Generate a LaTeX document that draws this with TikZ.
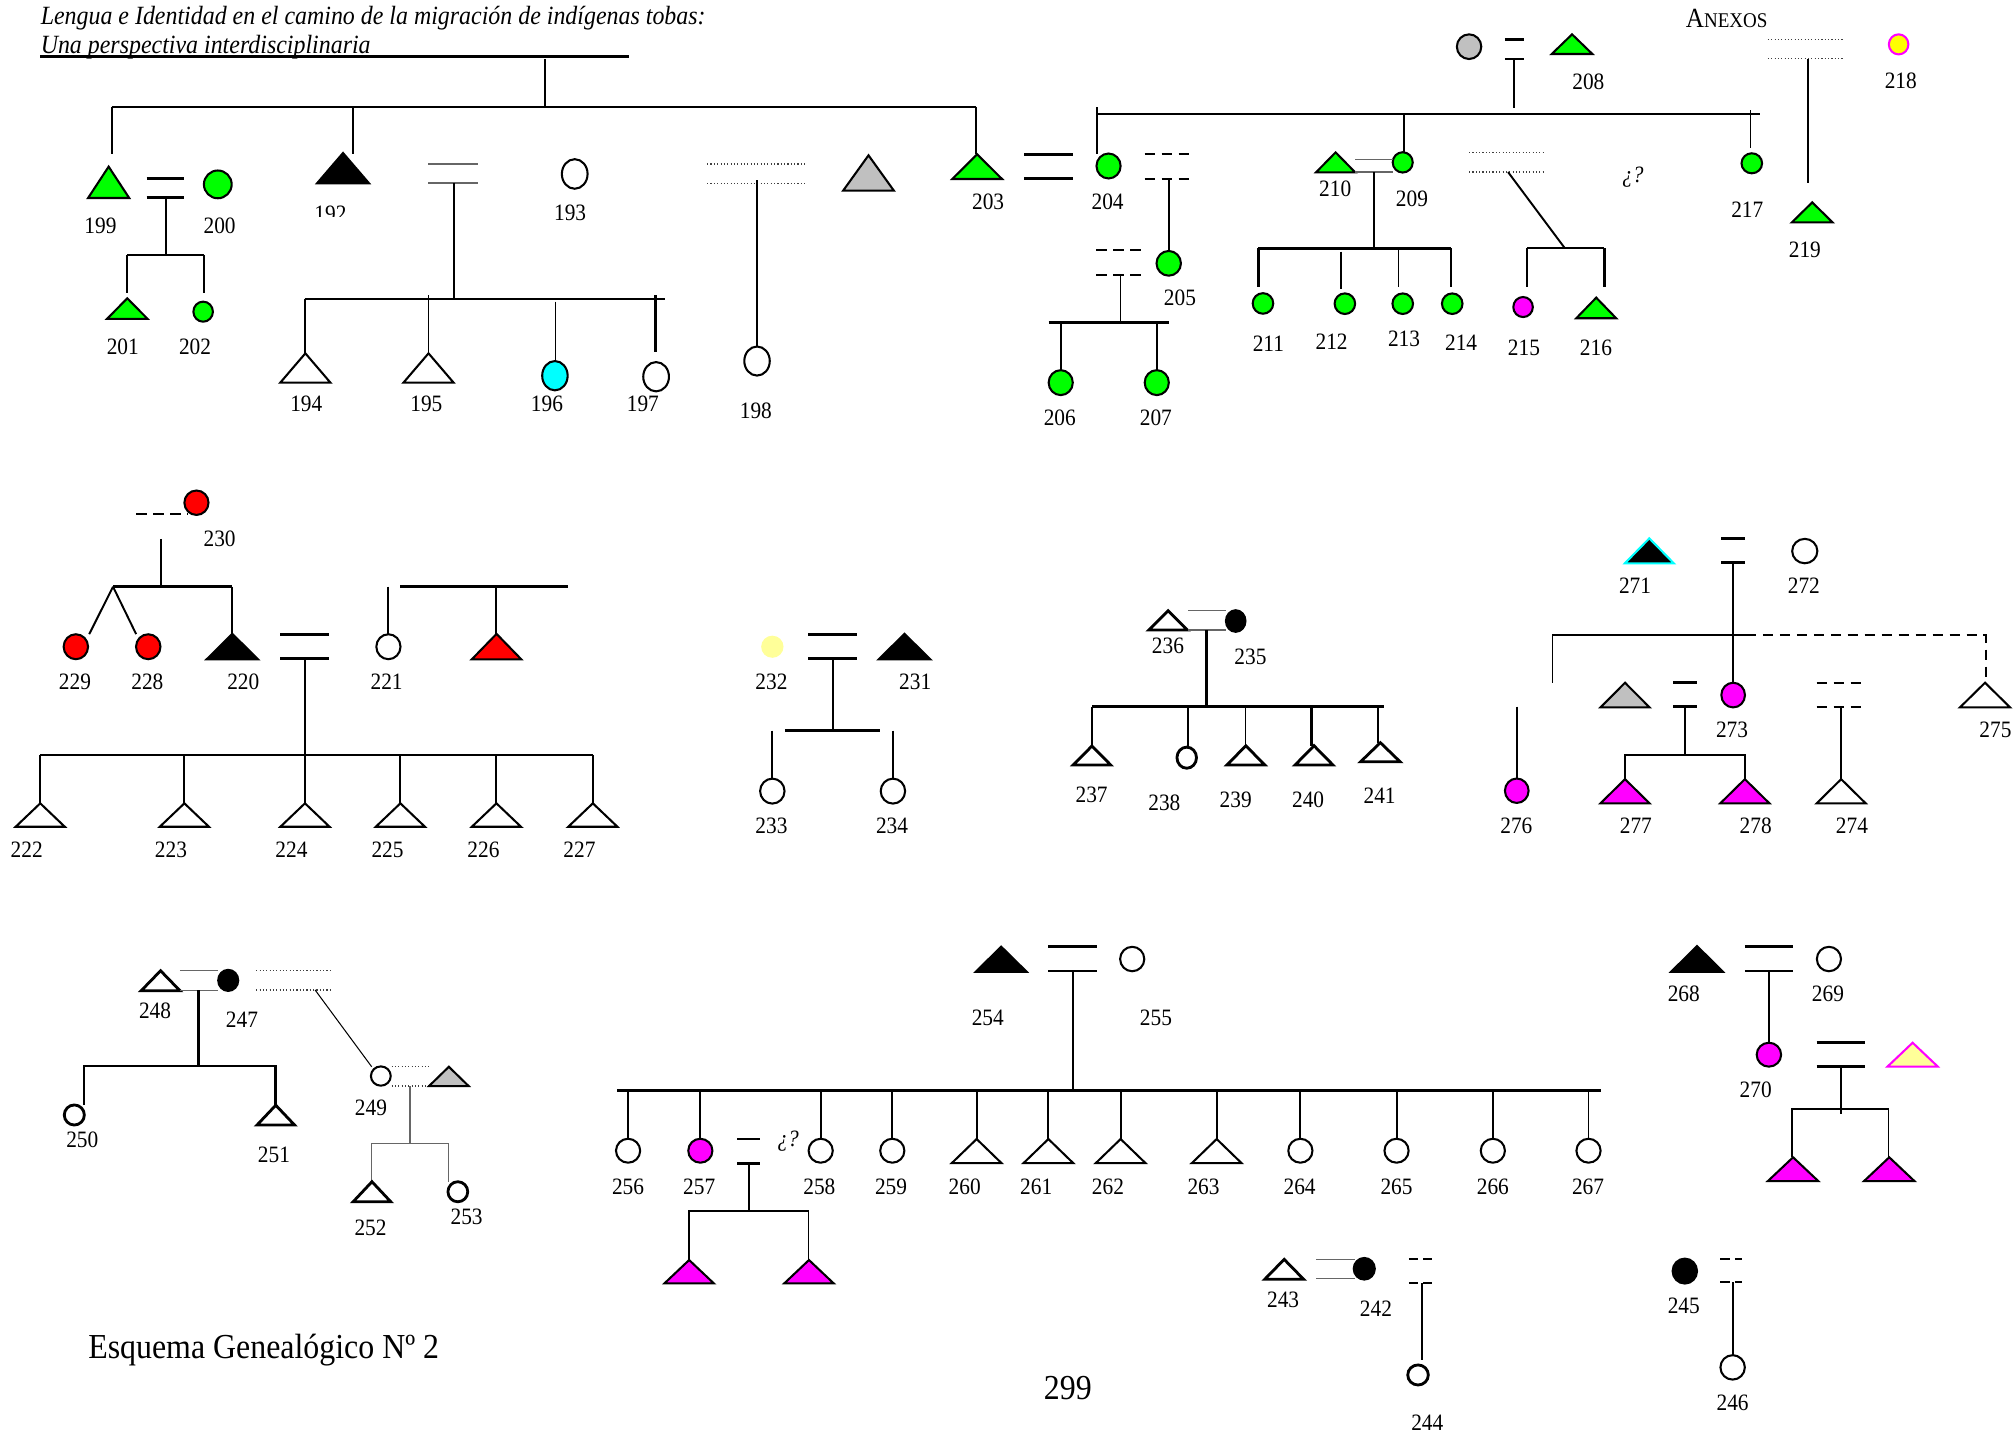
\documentclass[tikz,border=0pt]{standalone}
\usepackage{fontspec}
\usepackage{graphicx}
\setmainfont{Liberation Serif}
\usetikzlibrary{shapes.geometric}
\definecolor{pgreen}{HTML}{00FF00}
\definecolor{pcyan}{HTML}{00FFFF}
\definecolor{pmag}{HTML}{FF00FF}
\definecolor{pred}{HTML}{FF0000}
\definecolor{pgray}{HTML}{C0C0C0}
\definecolor{pyel}{HTML}{FFFF00}
\definecolor{ppale}{HTML}{FFFF99}
\newcommand\vsc[1]{\scalebox{1}[1.1]{#1}}
\newcommand\PC[6]{\node[pers,minimum width=#4pt,minimum height=#5pt,#6] (#1) at (#2,#3) {};}
\newcommand\PT[6]{\coordinate (#1) at (#2,#3); \draw[tri,#6] (#1) -- ++(#4/2,#5) -- ++(-#4,0) -- cycle;}
\newcommand\LB[3]{\node[lab] (l#1) at (#2,#3) {\vsc{#1}};}
\begin{document}
\begin{tikzpicture}[x=0.5pt,y=-0.5pt,
  ln/.style={line width=0.75pt},
  thk/.style={line width=1pt},
  thn/.style={line width=0.4pt},
  gry/.style={line width=0.5pt,black!60},
  dot2/.style={line width=0.55pt,black!75,dash pattern=on 0.45pt off 0.85pt},
  dsh/.style={line width=0.8pt,dash pattern=on 4pt off 2.6pt},
  dsh2/.style={line width=0.8pt,dash pattern=on 3.6pt off 2pt},
  pers/.style={ellipse,draw,line width=0.8pt,inner sep=0pt,outer sep=0pt,fill=white},
  bpers/.style={line width=1.1pt},
  tri/.style={draw,line width=0.8pt,fill=white},
  btri/.style={line width=1.1pt},
  lab/.style={font=\fontsize{8.3}{10}\selectfont,inner sep=0pt}]
\useasboundingbox (0,0) rectangle (1568,1115);

% ---------- header ----------
\node[anchor=west,inner sep=0pt,font=\fontsize{9.3}{11}\selectfont\itshape] (title1) at (31.3,14.3) {\vsc{Lengua e Identidad en el camino de la migración de indígenas tobas:}};
\node[anchor=west,inner sep=0pt,font=\fontsize{9.3}{11}\selectfont\itshape] (title2) at (31.3,36.3) {\vsc{Una perspectiva interdisciplinaria}};
\draw[thk] (31.3,44) -- (489.6,44);
\node[inner sep=0pt] (anexos) at (1343,14.5) {\vsc{\fontsize{9.8}{11}\selectfont A\fontsize{7.4}{9}\selectfont NEXOS}};

% ---------- section 1 ----------
\draw[ln] (423.6,46) -- (423.6,83);
\draw[ln] (86.8,83) -- (759.4,83);
\draw[ln] (86.8,83) -- (86.8,120);
\PT{p199}{84.5}{129.6}{32}{24.4}{fill=pgreen}
\draw[thk] (114,138.7) -- (143,138.7);
\draw[thk] (114,153.7) -- (143,153.7);
\PC{p200}{169.4}{143.4}{10.8}{10.8}{fill=pgreen}
\draw[ln] (129.2,153.7) -- (129.2,198.3);
\draw[ln] (99,198.3) -- (159,198.3);
\draw[ln] (99,198.3) -- (99,228);
\draw[ln] (159,198.3) -- (159,228);
\PT{p201}{99}{232}{31.5}{16}{fill=pgreen}
\PC{p202}{158}{242.4}{7.6}{7.8}{fill=pgreen}

\draw[ln] (274.5,83) -- (274.5,120);
\PT{p192}{266.8}{119}{40.5}{23.6}{fill=black}
\draw[gry] (333,127.5) -- (372,127.5);
\draw[gry] (333,142.3) -- (372,142.3);
\draw[ln] (352.8,142.3) -- (352.8,232.6);
\PC{p193}{447}{135.3}{10}{11.5}{}
\draw[thk] (237,232.6) -- (517,232.6);
\draw[ln] (237.3,232.6) -- (237.3,274.8);
\PT{p194}{237.5}{274.8}{39}{22.8}{}
\draw[ln] (333.3,229.7) -- (333.3,274.8);
\PT{p195}{333.3}{274.8}{39}{22.8}{}
\draw[thn] (432.3,234.6) -- (432.3,280.8);
\PC{p196}{431.6}{292.2}{9.9}{11.4}{fill=pcyan}
\draw[thk] (509.7,229.5) -- (509.7,273.5);
\PC{p197}{510.3}{293}{10}{11.4}{}

\draw[dot2] (550,127.6) -- (627,127.6);
\draw[dot2] (550,142.9) -- (627,142.9);
\draw[ln] (588.5,140) -- (588.5,269.6);
\PC{p198}{588.8}{280.8}{9.9}{11.3}{}
\PT{pg1}{675.5}{120.8}{39.5}{27.5}{fill=pgray}

\draw[ln] (759.4,83) -- (759.4,120);
\PT{p203}{760}{120}{38.7}{19.2}{fill=pgreen}
\draw[thk] (796.5,120) -- (834.4,120);
\draw[thk] (796.5,139) -- (834.4,139);
\PC{p204}{862.2}{129.1}{9.4}{9.7}{fill=pgreen}
\draw[ln] (853.2,83.5) -- (853.2,120);
\draw[thk] (853.2,88.7) -- (1369,88.7);

\PC{pg2}{1142.6}{36.3}{9.5}{9.6}{fill=pgray}
\draw[thk] (1170.4,30.6) -- (1185.4,30.6);
\draw[thk] (1170.4,45.9) -- (1185.4,45.9);
\draw[ln] (1177.7,45.9) -- (1177.7,84);
\PT{p208}{1222.7}{26.7}{31.6}{15.3}{fill=pgreen}

\draw[ln] (1092,88.7) -- (1092,118.7);
\PC{p209}{1091}{126.3}{7.8}{7.9}{fill=pgreen}
\PT{p210}{1038.8}{118.5}{30.4}{15.5}{fill=pgreen}
\draw[gry] (1054,124.2) -- (1083.5,124.2);
\draw[gry] (1054,133.8) -- (1083.5,133.8);
\draw[ln] (1068.7,133.8) -- (1068.7,193.2);
\draw[thk] (978.8,193.2) -- (1128.4,193.2);
\draw[thk] (978.8,193.2) -- (978.8,223);
\PC{p211}{982.3}{236}{8}{8}{fill=pgreen}
\draw[ln] (1042.7,195.7) -- (1042.7,225);
\PC{p212}{1046}{236.2}{8}{8}{fill=pgreen}
\draw[thn] (1087.8,193.2) -- (1087.8,223);
\PC{p213}{1091}{236.2}{8}{8}{fill=pgreen}
\draw[thk] (1128.4,193.2) -- (1128.4,223);
\PC{p214}{1129.5}{236.2}{8}{8}{fill=pgreen}

\draw[dot2] (1142.6,118.8) -- (1200.7,118.8);
\draw[dot2] (1142.6,133.8) -- (1200.7,133.8);
\draw[ln] (1172.9,133.8) -- (1217.2,193.2);
\draw[ln] (1187.8,193.2) -- (1247.9,193.2);
\draw[ln] (1187.8,193.2) -- (1187.8,223);
\draw[thk] (1247.9,193.2) -- (1247.9,223);
\PC{p215}{1184.6}{238.8}{7.6}{7.8}{fill=pmag}
\PT{p216}{1241.5}{231.5}{31}{16}{fill=pgreen}
\node[inner sep=0pt,font=\fontsize{8.3}{10}\selectfont\itshape] (q1) at (1270,137.4) {\vsc{¿?}};

\draw[ln] (1361.5,85.6) -- (1361.5,114.9);
\PC{p217}{1362.5}{127}{8}{7.8}{fill=pgreen}
\draw[dot2] (1375,30.6) -- (1433.3,30.6);
\draw[dot2] (1375,45.6) -- (1433.3,45.6);
\draw[ln] (1405.9,45.6) -- (1405.9,142.6);
\PC{p218}{1476.7}{34.5}{7.6}{7.8}{fill=pyel,draw=pmag}
\PT{p219}{1409.5}{157.4}{31.6}{15.5}{fill=pgreen}

\draw[dsh] (890.3,120) -- (927.8,120);
\draw[dsh] (890.3,139) -- (927.8,139);
\draw[ln] (909,139) -- (909,195);
\PC{p205}{909}{204.8}{9.5}{9.6}{fill=pgreen}
\draw[dsh] (852.8,194.4) -- (891,194.4);
\draw[dsh] (852.8,213.9) -- (891,213.9);
\draw[ln] (871.5,213.9) -- (871.5,251);
\draw[thk] (815.6,251) -- (909,251);
\draw[ln] (825,251) -- (825,288);
\draw[ln] (899.7,251) -- (899.7,288);
\PC{p206}{825}{297.6}{9.4}{9.7}{fill=pgreen}
\PC{p207}{899.7}{297.6}{9.4}{9.7}{fill=pgreen}

\LB{199}{78.1}{175.8} \LB{200}{170.8}{175.8}
\begin{scope}
\clip (230,150) rectangle (290,168.5);
\LB{192}{257}{166}
\end{scope}
\LB{193}{443.4}{165.2}
\LB{201}{95.5}{269.6} \LB{202}{151.7}{269.6}
\LB{194}{238.2}{314.2} \LB{195}{331.6}{314.2} \LB{196}{425.4}{314.2} \LB{197}{500}{314.2}
\LB{198}{587.9}{319.7}
\LB{203}{768.5}{156.9} \LB{204}{861.5}{156.9}
\LB{205}{917.7}{231.5}
\LB{206}{824.3}{324.9} \LB{207}{899}{324.9}
\LB{208}{1235.4}{63.5}
\LB{210}{1038.5}{146.5} \LB{209}{1098.2}{154.8}
\LB{211}{986.5}{267} \LB{212}{1035.7}{265.8} \LB{213}{1092}{263.7} \LB{214}{1136.4}{266.5}
\LB{215}{1185.3}{270.4} \LB{216}{1241.3}{270.9}
\LB{217}{1359}{163.3} \LB{218}{1478.4}{63} \LB{219}{1403.8}{194.4}

% ---------- section 2 ----------
\draw[dsh] (106,400) -- (145.8,400);
\PC{p230}{152.8}{391}{9.4}{9.5}{fill=pred}
\draw[ln] (125,419.2) -- (125,456.3);
\draw[thk] (87.9,456.3) -- (180.5,456.3);
\draw[ln] (87.9,456.3) -- (69.4,493.2);
\draw[ln] (87.9,456.3) -- (105.9,493.2);
\PC{p229}{59}{503}{9.5}{9.7}{fill=pred}
\PC{p228}{115.3}{503}{9.5}{9.7}{fill=pred}
\draw[ln] (180.5,456.3) -- (180.5,493);
\PT{p220}{180.7}{493}{40}{19.8}{fill=black}
\draw[thk] (218,493.4) -- (255.6,493.4);
\draw[thk] (218,512.3) -- (255.6,512.3);
\draw[ln] (237.2,512.3) -- (237.2,587.2);
\draw[ln] (302.1,456.3) -- (302.1,493.3);
\PC{p221}{302.1}{503}{9.4}{9.7}{}
\draw[thk] (311.4,456.3) -- (442,456.3);
\draw[ln] (386.1,456.3) -- (386.1,493);
\PT{pr1}{386.2}{493}{38.5}{19.8}{fill=pred}
\draw[thk] (31.3,587.2) -- (461.1,587.2);
\foreach \n/\xx in {222/31.3,223/143.4,224/237.2,225/311.4,226/386.1,227/461.1}{
  \draw[ln] (\xx,587.2) -- (\xx,624.8);
  \PT{p\n}{\xx}{624.8}{38.2}{18.2}{}
}
\LB{230}{170.8}{418.7}
\LB{229}{58.3}{530.2} \LB{228}{114.6}{530.2} \LB{220}{189.2}{530.2} \LB{221}{300.7}{530.2}
\LB{222}{20.8}{661} \LB{223}{133}{661} \LB{224}{226.7}{661} \LB{225}{301.4}{661} \LB{226}{376}{661} \LB{227}{450.7}{661}

\PC{p232}{600.7}{503}{8.7}{8.6}{fill=ppale,draw=none}
\draw[thk] (628.8,493.4) -- (666.3,493.4);
\draw[thk] (628.8,512.3) -- (666.3,512.3);
\PT{p231}{703.5}{493}{40.2}{19.8}{fill=black}
\draw[ln] (647.6,512.3) -- (647.6,568.3);
\draw[thk] (610.4,568.3) -- (684.4,568.3);
\draw[ln] (600.7,568.3) -- (600.7,605.4);
\draw[ln] (694.5,568.3) -- (694.5,605.4);
\PC{p233}{600.7}{615.3}{9.5}{9.7}{}
\PC{p234}{694.5}{615.3}{9.5}{9.7}{}
\LB{232}{600}{530.2} \LB{231}{711.8}{530.2} \LB{233}{600}{642.2} \LB{234}{693.8}{642.2}

\PT{p236}{908.5}{475}{30}{15}{btri}
\draw[gry] (924,475) -- (953.5,475);
\draw[gry] (924,490) -- (953.5,490);
\PC{p235}{961.1}{483}{7.6}{8.4}{fill=black}
\draw[thk] (938.5,490) -- (938.5,549.6);
\draw[thk] (849.4,549.6) -- (1076.7,549.6);
\draw[thk] (849.4,549.6) -- (849.4,580.2);
\PT{p237}{849.3}{580.2}{29.2}{14.8}{btri}
\draw[ln] (924,549.6) -- (924,580);
\PC{p238}{923}{589.3}{7.6}{8.2}{bpers}
\draw[thn] (968.7,549.6) -- (968.7,580);
\PT{p239}{969}{580}{29.5}{15}{btri}
\draw[thk] (1020.1,549.6) -- (1020.1,580);
\PT{p240}{1022}{580}{29.5}{15}{btri}
\draw[thk] (1071.6,549.6) -- (1071.6,577.6);
\PT{p241}{1073.6}{577.6}{30.6}{14.8}{btri}
\LB{236}{908.4}{502.4} \LB{235}{972.6}{510.7}
\LB{237}{849}{618.3} \LB{238}{905.6}{624.3} \LB{239}{961.1}{622.2} \LB{240}{1017.4}{622.2} \LB{241}{1073}{618.9}

\PT{p271}{1282.8}{418.7}{38.2}{19.5}{fill=black,draw=pcyan}
\draw[thk] (1338.9,418.7) -- (1357.2,418.7);
\draw[thk] (1338.9,437.6) -- (1357.2,437.6);
\draw[ln] (1348,437.6) -- (1348,531);
\PC{p272}{1403.7}{428.6}{9.8}{9.5}{}
\draw[ln] (1207.5,531) -- (1207.5,493.6) -- (1357.9,493.6);
\draw[dsh] (1357.9,493.6) -- (1544.3,493.6) -- (1544.3,531);
\PC{p273}{1348}{540.6}{9.2}{9.6}{fill=pmag}
\PT{p275}{1543.9}{531}{39}{19.2}{}
\PT{pg3}{1263.9}{531}{38.2}{19.2}{fill=pgray}
\draw[thk] (1301.3,531) -- (1319.7,531);
\draw[thk] (1301.3,549.6) -- (1319.7,549.6);
\draw[ln] (1310.5,549.6) -- (1310.5,587.2);
\draw[ln] (1263.7,606) -- (1263.7,587.2) -- (1357.2,587.2) -- (1357.2,606);
\PT{p277}{1263.9}{606}{38.2}{18.8}{fill=pmag}
\PT{p278}{1357.1}{606}{38.2}{18.8}{fill=pmag}
\draw[dsh] (1412.9,531) -- (1451,531);
\draw[dsh] (1412.9,549.6) -- (1451,549.6);
\draw[ln] (1431.8,549.6) -- (1431.8,606);
\PT{p274}{1432}{606}{38.1}{18.8}{}
\draw[ln] (1179.7,549.6) -- (1179.7,605.4);
\PC{p276}{1179.7}{615}{9.2}{9.5}{fill=pmag}
\LB{271}{1271.7}{455.8} \LB{272}{1403}{455.8} \LB{273}{1347.1}{567.8} \LB{275}{1552}{567.8}
\LB{276}{1179.4}{642.4} \LB{277}{1272.3}{642.4} \LB{278}{1365.5}{642.4} \LB{274}{1440.4}{642.4}

% ---------- section 3 ----------
\PT{p248}{124.9}{755}{30.1}{15.5}{btri}
\draw[gry] (139.9,755) -- (169.8,755);
\draw[gry] (139.9,770.3) -- (169.8,770.3);
\PC{p247}{177.5}{762.5}{7.8}{8.2}{fill=black}
\draw[thk] (154.4,770.3) -- (154.4,829.1);
\draw[thk] (65.2,859.5) -- (65.2,829.1) -- (214.4,829.1) -- (214.4,859.6);
\PC{p250}{57.8}{867.2}{7.8}{7.8}{bpers}
\PT{p251}{214.5}{859.6}{29.2}{15.4}{btri}
\draw[dot2] (199.3,755) -- (258.9,755);
\draw[dot2] (199.3,770) -- (258.9,770);
\draw[thn] (245.1,770) -- (289.1,829.7);
\PC{p249}{296.2}{836.9}{7.7}{7.5}{}
\draw[dot2] (304.5,829.7) -- (333.7,829.7);
\draw[dot2] (304.5,844.7) -- (333.7,844.7);
\PT{pg4}{349.1}{829.7}{30.8}{15}{fill=pgray}
\draw[gry] (318.9,844.7) -- (318.9,889.3);
\draw[gry] (289.1,919.1) -- (289.1,889.3) -- (349.1,889.3) -- (349.1,919);
\PT{p252}{289.3}{919.1}{29.3}{15.6}{btri}
\PC{p253}{356.1}{926.9}{7.7}{7.8}{bpers}
\LB{248}{120.6}{786.1} \LB{247}{188.2}{793.3} \LB{250}{64}{886.7} \LB{251}{213.1}{898.3}
\LB{249}{288.5}{861.3} \LB{252}{288.2}{954.6} \LB{253}{362.9}{946.3}
\node[inner sep=0pt,font=\fontsize{12.4}{14}\selectfont] (esq) at (205.1,1050) {\vsc{Esquema Genealógico Nº 2}};

\PT{p254}{778.7}{736.3}{39.6}{19.5}{fill=black}
\draw[thk] (815.4,736.3) -- (853.1,736.3);
\draw[thk] (815.4,755.2) -- (853.1,755.2);
\PC{p255}{880.6}{745.9}{9.4}{9.5}{}
\draw[ln] (834.2,755.2) -- (834.2,848.3);
\draw[thk] (479.9,848.3) -- (1245.1,848.3);
\foreach \n/\xx/\cc in {256/488.5/white,257/544.7/pmag,258/638.3/white,259/694/white,264/1011.4/white,265/1086.2/white,266/1161.1/white,267/1235.5/white}{
  \draw[ln] (\xx,848.3) -- (\xx,885.9);
  \PC{p\n}{\xx}{895}{9.4}{9.3}{fill=\cc}
}
\foreach \n/\xx in {260/759.6,261/815.4,262/871.6,263/946.3}{
  \draw[ln] (\xx,848.3) -- (\xx,885.9);
  \PT{p\n}{\xx}{885.9}{38.8}{18.8}{}
}
\draw[thk] (573.4,885.9) -- (591.1,885.9);
\draw[thk] (573.4,904.8) -- (591.1,904.8);
\node[inner sep=0pt,font=\fontsize{8.3}{10}\selectfont\itshape] (q2) at (613,887.2) {\vsc{¿?}};
\draw[ln] (582.4,904.8) -- (582.4,941.6);
\draw[ln] (535.7,980) -- (535.7,941.6) -- (628.8,941.6) -- (628.8,980);
\PT{pm1}{536}{980}{38.5}{18.2}{fill=pmag}
\PT{pm2}{629.2}{980}{38.5}{18.2}{fill=pmag}
\LB{254}{768.3}{792} \LB{255}{899.1}{792}
\LB{256}{488.5}{923} \LB{257}{543.8}{923} \LB{258}{637.3}{923} \LB{259}{693}{923}
\LB{260}{750.3}{923} \LB{261}{805.9}{923} \LB{262}{861.7}{923} \LB{263}{936.1}{923}
\LB{264}{1010.8}{923} \LB{265}{1086.2}{923} \LB{266}{1161.1}{923} \LB{267}{1235.1}{923}
\node[inner sep=0pt,font=\fontsize{12.4}{14}\selectfont] (page) at (830.5,1079.8) {\vsc{299}};

\PT{p243}{998.8}{979.5}{30.3}{15.5}{btri}
\draw[gry] (1023.6,979.5) -- (1053.9,979.5);
\draw[gry] (1023.6,994.3) -- (1053.9,994.3);
\PC{p242}{1061.1}{986.8}{8.2}{8.4}{fill=black}
\draw[dsh2] (1095.7,979.5) -- (1113.5,979.5);
\draw[dsh2] (1095.7,998.2) -- (1113.5,998.2);
\draw[thk] (1106,998.2) -- (1106,1057.8);
\PC{p244}{1102.9}{1069.4}{8}{7.8}{bpers}
\PC{p245}{1310.4}{988.6}{9.5}{9.7}{fill=black}
\draw[dsh2] (1338.1,979) -- (1355.2,979);
\draw[dsh2] (1338.1,997.4) -- (1355.2,997.4);
\draw[ln] (1348,997.4) -- (1348,1053.9);
\PC{p246}{1347.6}{1063.5}{9.5}{9.5}{}
\LB{243}{998}{1010.6} \LB{242}{1070.2}{1017.6} \LB{244}{1110.1}{1106.3}
\LB{245}{1309.6}{1015.8} \LB{246}{1347.6}{1090.7}

\PT{p268}{1319.9}{735.8}{40.3}{20}{fill=black}
\draw[thk] (1357.2,736.3) -- (1394.7,736.3);
\draw[thk] (1357.2,755.2) -- (1394.7,755.2);
\PC{p269}{1422.5}{745.9}{9.4}{9.5}{}
\draw[ln] (1375.8,755.2) -- (1375.8,811);
\PC{p270}{1375.8}{820.3}{9.5}{9.3}{fill=pmag}
\draw[thk] (1413,811) -- (1450.3,811);
\draw[thk] (1413,829.6) -- (1450.3,829.6);
\PT{py1}{1487.6}{811}{39.2}{18.6}{fill=ppale,draw=pmag}
\draw[ln] (1432,829.6) -- (1432,866.7);
\draw[ln] (1394,900.1) -- (1394,862.6) -- (1468.8,862.6) -- (1468.8,900.1);
\PT{pm3}{1394.6}{900.1}{39.2}{18.5}{fill=pmag}
\PT{pm4}{1469.4}{900.1}{39.2}{18.5}{fill=pmag}
\LB{268}{1309.6}{773.1} \LB{269}{1421.7}{773.1} \LB{270}{1365.5}{847.8}
\end{tikzpicture}
\end{document}
